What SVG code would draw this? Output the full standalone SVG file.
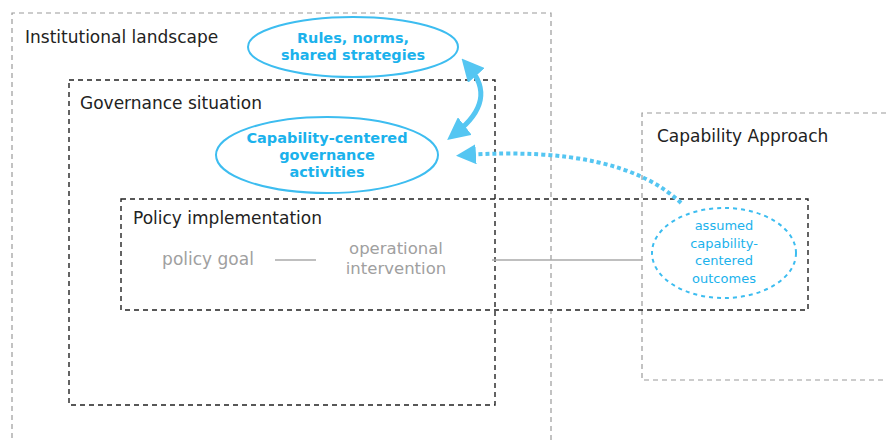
<svg xmlns="http://www.w3.org/2000/svg" width="886" height="440" viewBox="0 0 886 440">
<defs>
<style>
.gbox{fill:none;stroke:#9a9a9a;stroke-width:1.2;stroke-dasharray:5 4}
.kbox{fill:none;stroke:#222;stroke-width:1.4;stroke-dasharray:5 4}
.lbl{font-family:"DejaVu Sans",sans-serif;font-size:17px;fill:#222}
.gray{font-family:"DejaVu Sans",sans-serif;font-size:17px;fill:#a0a0a0;text-anchor:middle}
.blue{font-family:"DejaVu Sans",sans-serif;font-size:14.5px;font-weight:bold;fill:#1bb2ec;text-anchor:middle}
.blues{font-family:"DejaVu Sans",sans-serif;font-size:13px;fill:#1bb2ec;text-anchor:middle}
.ell{fill:#fff;stroke:#3dbdf0;stroke-width:2}
</style>
<marker id="ah" viewBox="0 0 10 10" refX="5" refY="5" markerWidth="4.5" markerHeight="4.5" orient="auto-start-reverse" markerUnits="strokeWidth">
<path d="M0,0 L10,5 L0,10 z" fill="#55c6f2"/>
</marker>
<marker id="ah2" viewBox="0 0 10 10" refX="5" refY="5" markerWidth="5" markerHeight="5" orient="auto" markerUnits="strokeWidth">
<path d="M0,0 L10,5 L0,10 z" fill="#55c6f2"/>
</marker>
</defs>
<g id="institutional-landscape">
<path class="gbox" d="M551,440 V13 H12 V440"/>
<text class="lbl" x="25" y="43">Institutional landscape</text>
</g>
<g id="governance-situation">
<rect class="kbox" x="69" y="80" width="426" height="325"/>
<text class="lbl" x="80" y="109">Governance situation</text>
</g>
<g id="capability-approach">
<path class="gbox" d="M886,113 H642 V380 H886"/>
<text class="lbl" x="657" y="142">Capability Approach</text>
</g>
<g id="policy-implementation">
<rect class="kbox" x="121" y="199" width="687" height="111"/>
<text class="lbl" x="133" y="224">Policy implementation</text>
</g>
<g id="connectors">
<line x1="275" y1="260" x2="316" y2="260" stroke="#aaa" stroke-width="1.3"/>
<line x1="492" y1="260" x2="642" y2="260" stroke="#aaa" stroke-width="1.3"/>
<path d="M469,67 Q498,100 456,133" fill="none" stroke="#55c6f2" stroke-width="5" marker-start="url(#ah)" marker-end="url(#ah)"/>
<path d="M681,203 Q620,145 466,155" fill="none" stroke="#55c6f2" stroke-width="4" stroke-dasharray="4 3" marker-end="url(#ah2)"/>
</g>
<g id="policy-goal">
<text class="gray" x="208" y="265">policy goal</text>
</g>
<g id="operational-intervention">
<text class="gray" x="396" y="254" style="font-size:16.5px">operational</text>
<text class="gray" x="396" y="274" style="font-size:16.5px">intervention</text>
</g>
<g id="rules-norms">
<ellipse class="ell" cx="353" cy="47" rx="105" ry="30"/>
<text class="blue" x="353" y="43">Rules, norms,</text>
<text class="blue" x="353" y="60">shared strategies</text>
</g>
<g id="capability-governance">
<ellipse class="ell" cx="327" cy="155" rx="111" ry="38"/>
<text class="blue" x="327" y="143">Capability-centered</text>
<text class="blue" x="327" y="160">governance</text>
<text class="blue" x="327" y="177">activities</text>
</g>
<g id="assumed-outcomes">
<ellipse cx="724" cy="253" rx="72" ry="45" fill="#fff" stroke="#3dbdf0" stroke-width="2" stroke-dasharray="4 4"/>
<text class="blues" x="724" y="230">assumed</text>
<text class="blues" x="724" y="248">capability-</text>
<text class="blues" x="724" y="265">centered</text>
<text class="blues" x="724" y="283">outcomes</text>
</g>
</svg>
